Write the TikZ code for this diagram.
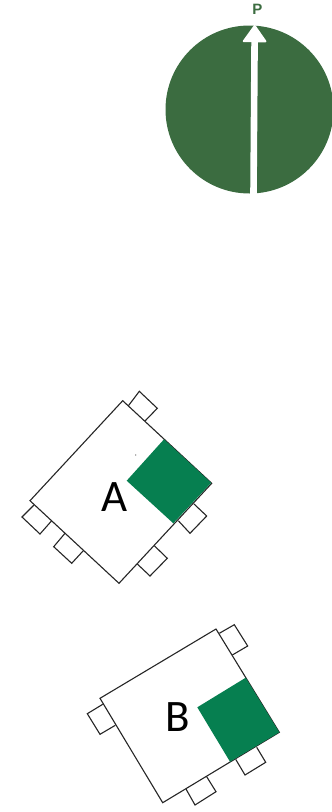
\documentclass[tikz,border=0pt]{standalone}
\usepackage{fontspec}
\setmainfont{Carlito}
\newfontfamily\markerfont{Liberation Sans}
\usetikzlibrary{arrows.meta}
\definecolor{compassGreen}{HTML}{3B6C40}
\definecolor{panelGreen}{HTML}{067F50}

\begin{document}
\begin{tikzpicture}[
    x=1pt, y=-1pt,
    body/.style={draw=black!85, line width=1.1pt, fill=white, line join=miter},
    tab/.style={draw=black!85, line width=1.1pt, fill=white},
    panel/.style={fill=panelGreen},
    roomlabel/.style={font=\fontsize{45}{54}\selectfont, text=black, inner sep=0pt},
    pointer/.style={draw=white, line width=6.6pt,
                    -{Triangle[width=25pt, length=18pt, line width=2pt, round]}},
  ]
    \useasboundingbox (0,0) rectangle (332,812);

    % north marker
    \node[circle, fill=compassGreen, minimum size=168pt, inner sep=0pt] (disc) at (249.5,109.5) {};
    \node[font=\markerfont\fontsize{15}{17}\selectfont\bfseries, text=compassGreen, inner sep=0pt] (north) at (257.3,9.5) {P};
    \coordinate (tail) at (253.5,194.5);
    \coordinate (tip) at (254.7,25);
    \draw[pointer] (tail) -- (tip);

    % unit A
    \draw[tab] (127.7,406.7) -- (139.3,391.3) -- (157.3,408.3) -- (145,421);
    \draw[tab] (34,505) -- (22,517) -- (40,534) -- (51.7,520.7);
    \draw[tab] (65,533.3) -- (53.7,546.7) -- (71.7,563.3) -- (83.3,550.7);
    \draw[tab] (137.3,564) -- (150,576) -- (167.3,558.3) -- (154.3,545.7);
    \draw[tab] (178.3,520.7) -- (190,533.3) -- (206.7,516) -- (194,504);
    \draw[body] (122.7,400.7) -- (211.7,483.3) -- (119,583.3) -- (30,500.7) -- cycle;
    \fill[panel] (164,439.3) -- (211.2,482.8) -- (173.3,523.3) -- (126.7,480.7) -- cycle;
    \fill[black!70] (135.7,455) circle (0.6pt);
    \node[roomlabel] (labelA) at (114.3,496.7) {A};

    % unit B
    \draw[tab] (219.3,633.3) -- (234.3,624.7) -- (247.7,646) -- (232.3,655);
    \draw[tab] (102.7,704.3) -- (87.3,713.7) -- (100,734.3) -- (115.3,725.3);
    \draw[tab] (186,789) -- (195,805) -- (216,791.7) -- (206.7,776.7);
    \draw[tab] (235.7,759.3) -- (245,775) -- (265.7,762.3) -- (256.7,747.3);
    \draw[body] (216,629) -- (279.3,732.3) -- (162.7,802.7) -- (100,698.3) -- cycle;
    \fill[panel] (245.7,677.7) -- (279.3,732.3) -- (230,761.7) -- (197.3,707.3) -- cycle;
    \node[roomlabel] (labelB) at (177.3,716.7) {B};
\end{tikzpicture}
\end{document}
